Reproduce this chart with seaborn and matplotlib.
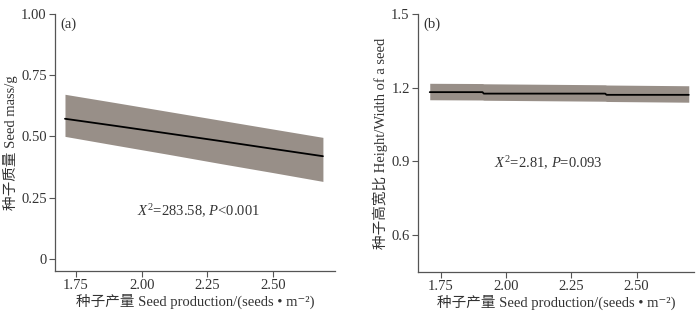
import numpy as np
import pandas as pd
import matplotlib
matplotlib.use("Agg")
import matplotlib.pyplot as plt
import seaborn as sns

# ---- data ----
seed_prod_a = [1.708, 1.90, 2.10, 2.30, 2.50, 2.690]
mass_fit = [0.572, 0.543, 0.512, 0.481, 0.449, 0.419]
mass_lo = [0.500, 0.464, 0.427, 0.389, 0.352, 0.316]
mass_hi = [0.672, 0.638, 0.602, 0.566, 0.530, 0.496]

seed_prod_b = [1.708, 1.910, 1.915, 2.380, 2.385, 2.700]
hw_fit = [1.182, 1.182, 1.176, 1.176, 1.171, 1.171]
hw_lo = [1.151, 1.150, 1.149, 1.145, 1.144, 1.141]
hw_hi = [1.218, 1.217, 1.216, 1.212, 1.211, 1.208]

yticks_a = [0, 0.25, 0.50, 0.75, 1.00]
yticklabels_a = ["0", "0.25", "0.50", "0.75", "1.00"]
yticks_b = [0.6, 0.9, 1.2, 1.5]
xticks = [1.75, 2.00, 2.25, 2.50]

sns.set_style("ticks")
fam = ['Liberation Serif', 'Noto Sans CJK SC', 'DejaVu Sans']
plt.rcParams['font.family'] = fam
plt.rcParams['mathtext.fontset'] = 'custom'
plt.rcParams['mathtext.rm'] = 'Liberation Serif'
plt.rcParams['mathtext.it'] = 'Liberation Serif:italic'

band_color = "#988f88"
text_color = "#333333"
spine_color = "#555555"

fig = plt.figure(figsize=(7.0, 3.11), dpi=100)
ax1 = fig.add_axes([55/700, 1 - 271/311, (335-55)/700, (271-14)/311])
ax2 = fig.add_axes([418/700, 1 - 272/311, (694-418)/700, (272-14)/311])

dfa = pd.DataFrame({"x": seed_prod_a, "y": mass_fit})
dfb = pd.DataFrame({"x": seed_prod_b, "y": hw_fit})

ax1.fill_between(seed_prod_a, mass_lo, mass_hi, color=band_color, lw=0, zorder=1)
sns.lineplot(data=dfa, x="x", y="y", ax=ax1, color="black", lw=1.3, zorder=2)
ax2.fill_between(seed_prod_b, hw_lo, hw_hi, color=band_color, lw=0, zorder=1)
sns.lineplot(data=dfb, x="x", y="y", ax=ax2, color="black", lw=1.3, zorder=2)

ax1.set_xlim(1.67, 2.736)
ax1.set_ylim(-0.05, 1.0)
ax1.set_yticks(yticks_a)
ax1.set_yticklabels(yticklabels_a)
ax2.set_xlim(1.663, 2.72)
ax2.set_ylim(0.45, 1.5)
ax2.set_yticks(yticks_b)

xlab = "种子产量 Seed production/(seeds • m⁻²)"
for ax in (ax1, ax2):
    ax.set_xticks(xticks)
    ax.set_xticklabels([f"{t:.2f}" for t in xticks])
    sns.despine(ax=ax)
    for s in ("left", "bottom"):
        ax.spines[s].set_color(spine_color)
        ax.spines[s].set_linewidth(0.9)
    ax.tick_params(direction="out", length=4, width=0.8, colors=spine_color,
                   labelcolor=text_color, labelsize=10.5, pad=2)
    ax.set_xlabel(xlab, fontsize=10.5, color=text_color, labelpad=1)

ax1.set_ylabel("种子质量 Seed mass/g", fontsize=10.5, color=text_color, labelpad=2)
ax2.set_ylabel("种子高宽比 Height/Width of a seed", fontsize=10.5, color=text_color, labelpad=2)

ax1.text(0.02, 0.985, "(a)", transform=ax1.transAxes, ha="left", va="top",
         fontsize=10.5, color=text_color)
ax2.text(0.02, 0.985, "(b)", transform=ax2.transAxes, ha="left", va="top",
         fontsize=10.5, color=text_color)

ax1.text(2.215, 0.193, r"$X^{2}$=283.58, $P$<0.001", ha="center", va="center",
         fontsize=10.5, color=text_color)
ax2.text(2.161, 0.892, r"$X^{2}$=2.81, $P$=0.093", ha="center", va="center",
         fontsize=10.5, color=text_color)

fig.savefig("out.png", dpi=100)
